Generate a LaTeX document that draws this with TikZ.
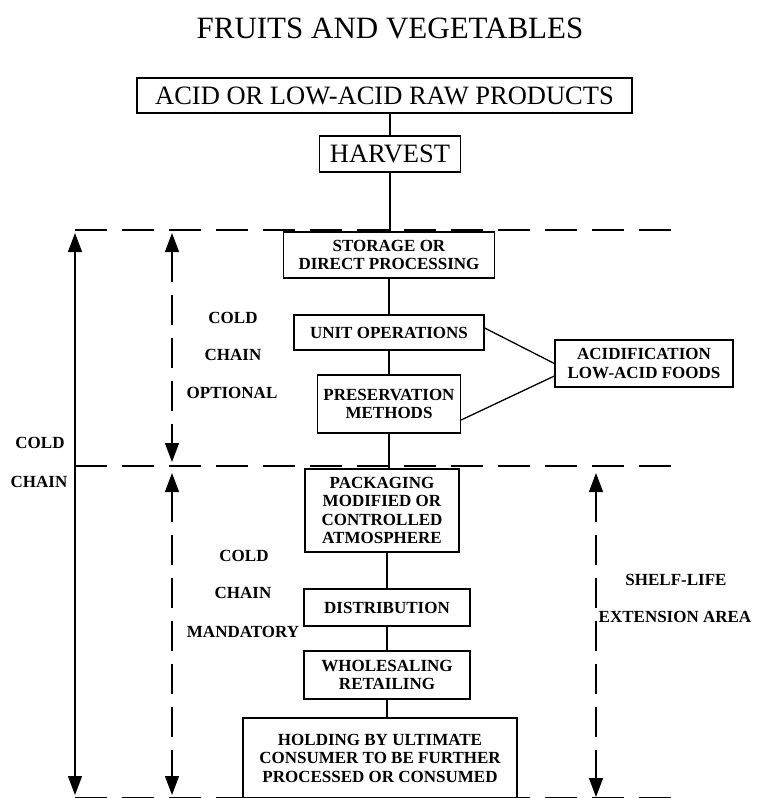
\documentclass[tikz,border=0pt]{standalone}
\usepackage{fontspec}
\setmainfont{Liberation Serif}
\usepackage{tikz}
\usetikzlibrary{arrows.meta,positioning,calc}

\newcommand{\flowfont}{\fontsize{17}{18.5}\selectfont\bfseries}
\newcommand{\bigfont}{\fontsize{26.5}{30}\selectfont}

\begin{document}
\begin{tikzpicture}[x=1pt, y=-1pt,
    stagebox/.style={draw, line width=1.3pt, fill=white, align=center, inner sep=0pt, font=\flowfont},
    chainlabel/.style={font=\flowfont, inner sep=0pt},
    zoneline/.style={line width=1.4pt, dash pattern=on 32pt off 15pt},
    span/.style={line width=1.4pt, {Triangle[width=14pt,length=19pt]}-{Triangle[width=14pt,length=19pt]}},
    dashspan/.style={span, dash pattern=on 30pt off 13pt},
    link/.style={line width=1.3pt}]
    \useasboundingbox (0,0) rectangle (763,798);

    % zone boundaries
    \coordinate (z1l) at (75,230);  \coordinate (z1r) at (680,230);
    \coordinate (z2l) at (75,466);  \coordinate (z2r) at (680,466);
    \coordinate (z3l) at (75,798);  \coordinate (z3r) at (680,798);
    \draw[zoneline] (z1l) -- (z1r);
    \draw[zoneline] (z2l) -- (z2r);
    \draw[zoneline] (z3l) -- (z3r);

    \node[font=\fontsize{31}{36}\selectfont] (title) at (390,28) {FRUITS AND VEGETABLES};

    \node[stagebox, font=\bigfont, minimum width=495pt, minimum height=35pt] (raw) at (384.5,95.5) {ACID OR LOW-ACID RAW PRODUCTS};
    \node[stagebox, font=\bigfont, minimum width=141pt, minimum height=36pt] (harvest) at (390,154) {HARVEST};
    \node[stagebox, minimum width=211pt, minimum height=46pt] (storage) at (389,255) {STORAGE OR\\DIRECT PROCESSING};
    \node[stagebox, minimum width=190pt, minimum height=35pt] (unitops) at (389,332.5) {UNIT OPERATIONS};
    \node[stagebox, minimum width=143pt, minimum height=58pt] (preserve) at (389,404) {PRESERVATION\\METHODS};
    \node[stagebox, minimum width=178pt, minimum height=47pt] (acidif) at (644,363.5) {ACIDIFICATION\\LOW-ACID FOODS};

    \node[stagebox, minimum width=154pt, minimum height=83pt] (packaging) at (382,510.5) {PACKAGING\\MODIFIED OR\\CONTROLLED\\ATMOSPHERE};
    \node[stagebox, minimum width=166pt, minimum height=37pt] (distrib) at (387,607.5) {DISTRIBUTION};
    \node[stagebox, minimum width=166pt, minimum height=48pt] (retail) at (387,675) {WHOLESALING\\RETAILING};
    \node[stagebox, minimum width=274pt, minimum height=80pt] (holding) at (380,758) {HOLDING BY ULTIMATE\\CONSUMER TO BE FURTHER\\PROCESSED OR CONSUMED};

    % flow
    \draw[link] (harvest.north |- raw.south) -- (harvest.north);
    \draw[link] (harvest.south) -- (harvest.south |- storage.north);
    \draw[link] (storage.south) -- (unitops.north);
    \draw[link] (unitops.south) -- (preserve.north);
    \draw[link] (preserve.south) -- (preserve.south |- packaging.north);
    \draw[link] (distrib.north |- packaging.south) -- (distrib.north);
    \draw[link] (distrib.south) -- (retail.north);
    \draw[link] (retail.south) -- (retail.south |- holding.north);
    \draw[link] ([yshift=4.5pt]unitops.east) -- (acidif.west);
    \draw[link] ([yshift=-16pt]preserve.east) -- ([yshift=-12.5pt]acidif.west);

    % cold chain spans
    \coordinate (cc1) at (75,233);   \coordinate (cc2) at (75,795);
    \coordinate (op1) at (172,233);  \coordinate (op2) at (172,462);
    \coordinate (md1) at (172,473);  \coordinate (md2) at (172,795);
    \coordinate (sl1) at (596,473);  \coordinate (sl2) at (596,797);
    \draw[span] (cc1) -- (cc2);
    \draw[dashspan] (op1) -- (op2);
    \draw[dashspan] (md1) -- (md2);
    \draw[dashspan] (sl1) -- (sl2);

    \node[chainlabel] (coldall) at (40,443) {COLD};
    \node[chainlabel] (chainall) at (39,482) {CHAIN};
    \node[chainlabel] (coldopt) at (233,318) {COLD};
    \node[chainlabel] (chainopt) at (233,355) {CHAIN};
    \node[chainlabel] (optional) at (232,393) {OPTIONAL};
    \node[chainlabel] (coldman) at (244,556) {COLD};
    \node[chainlabel] (chainman) at (243,593) {CHAIN};
    \node[chainlabel] (mandatory) at (243,632) {MANDATORY};
    \node[chainlabel] (shelf) at (676,580) {SHELF-LIFE};
    \node[chainlabel] (extension) at (675,617) {EXTENSION AREA};
\end{tikzpicture}
\end{document}
